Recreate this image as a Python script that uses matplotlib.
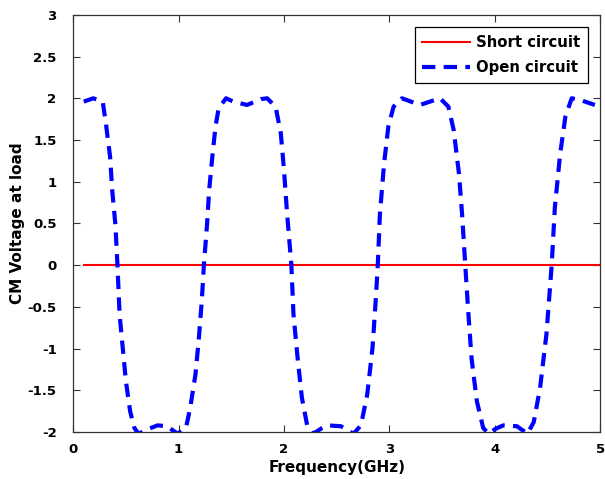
"""CM voltage at load vs frequency: short vs open circuit termination."""

import matplotlib
matplotlib.use("Agg")
import matplotlib.pyplot as plt

plt.rcParams["font.family"] = ["DejaVu Sans"]
plt.rcParams["font.weight"] = "bold"

# Short circuit: flat zero across the band
short_freq = [0.1, 5.0]
short_volt = [0.0, 0.0]

# Open circuit: values
open_freq = [
    0.10, 0.19, 0.28, 0.31, 0.35, 0.37, 0.40, 0.42, 0.44, 0.47, 0.50, 0.54,
    0.58, 0.62, 0.72, 0.80, 0.89, 0.99, 1.07, 1.11, 1.16, 1.19, 1.22, 1.24,
    1.27, 1.29, 1.32, 1.35, 1.38, 1.45, 1.52, 1.65, 1.78, 1.84, 1.92, 1.97,
    2.00, 2.03, 2.07, 2.09, 2.13, 2.17, 2.22, 2.28, 2.35, 2.41, 2.54, 2.66,
    2.73, 2.79, 2.84, 2.87, 2.89, 2.91, 2.95, 2.99, 3.04, 3.12, 3.29, 3.48,
    3.56, 3.61, 3.66, 3.69, 3.72, 3.75, 3.78, 3.83, 3.89, 3.94, 4.01, 4.08,
    4.21, 4.31, 4.37, 4.43, 4.49, 4.54, 4.57, 4.62, 4.67, 4.73, 4.81, 4.95,
]
open_volt = [
    1.96, 2.00, 1.96, 1.70, 1.30, 0.90, 0.49, 0.00, -0.59, -0.99, -1.39, -1.75,
    -1.95, -2.02, -1.96, -1.92, -1.93, -2.02, -1.95, -1.71, -1.31, -0.91, -0.43, 0.00,
    0.49, 0.90, 1.30, 1.66, 1.88, 2.00, 1.96, 1.92, 1.99, 2.00, 1.90, 1.58,
    1.14, 0.61, 0.00, -0.59, -1.12, -1.59, -1.92, -2.02, -1.96, -1.92, -1.93, -2.02,
    -1.92, -1.55, -0.99, -0.43, 0.00, 0.61, 1.22, 1.66, 1.90, 2.00, 1.92, 2.00,
    1.90, 1.62, 1.10, 0.61, 0.00, -0.59, -1.12, -1.63, -1.95, -2.02, -1.96, -1.92,
    -1.93, -2.02, -1.88, -1.47, -0.83, 0.00, 0.69, 1.33, 1.78, 2.00, 1.98, 1.92,
]

fig = plt.figure(figsize=(6.05, 4.79), dpi=100)
ax = fig.add_axes([0.121, 0.098, 0.871, 0.871])

ax.plot(short_freq, short_volt, color="red", linewidth=1.5, label="Short circuit")
ax.plot(open_freq, open_volt, color="blue", linewidth=3.0, dashes=(3.2, 2.0),
        label="Open circuit")

ax.set_xlim(0, 5)
ax.set_ylim(-2, 3)
ax.set_xticks([0, 1, 2, 3, 4, 5])
ax.set_yticks([-2, -1.5, -1, -0.5, 0, 0.5, 1, 1.5, 2, 2.5, 3])
ax.set_yticklabels(["-2", "-1.5", "-1", "-0.5", "0", "0.5", "1", "1.5", "2", "2.5", "3"])
ax.tick_params(direction="in", top=True, right=True, length=5, width=0.8,
               labelsize=9.5, color="#333333")
ax.tick_params(axis="y", pad=12)
ax.tick_params(axis="x", pad=8)
for spine in ax.spines.values():
    spine.set_color("#333333")
    spine.set_linewidth(0.9)

ax.set_xlabel("Frequency(GHz)", fontsize=11, fontweight="bold")
ax.set_ylabel("CM Voltage at load", fontsize=11, fontweight="bold")
ax.xaxis.set_label_coords(0.5, -0.067)
ax.yaxis.set_label_coords(-0.091, 0.5)

leg = ax.legend(loc="upper right", fontsize=10.7, handlelength=3.2, fancybox=False,
                edgecolor="black", framealpha=1, borderaxespad=0.85,
                borderpad=0.5, labelspacing=0.7, handletextpad=0.4)
leg.get_frame().set_linewidth(0.9)

fig.savefig("out.png", dpi=100)
